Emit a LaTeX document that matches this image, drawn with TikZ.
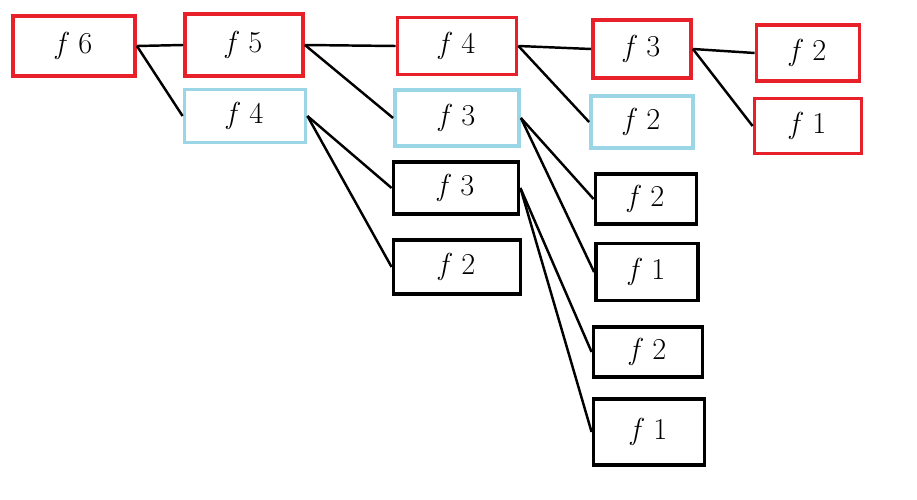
\documentclass[tikz,border=0pt]{standalone}
\usepackage{tikz}
\usetikzlibrary{positioning}
\definecolor{memo}{HTML}{E8202A}
\definecolor{sky}{HTML}{9AD6E6}
\tikzset{
  fbox/.style={draw=black,fill=white,line width=2.2pt,minimum height=#1,inner sep=0pt,font=\LARGE},
  fbox/.default=1cm,
  fboxr/.style={fbox=#1,draw=memo},
  fboxr/.default=1cm,
  fboxb/.style={fbox=#1,draw=sky},
  fboxb/.default=1cm,
  ln/.style={line width=1.4pt,black},
}
\newcommand{\fcall}[1]{\textit{f}\ #1}

\begin{document}
\begin{tikzpicture}[x=0.02cm,y=-0.02cm]
\useasboundingbox (0,0) rectangle (917,500);
% level 0 and 1
\node[fboxr=1.2cm,minimum width=2.44cm] (f6) at (74,46) {\fcall6};
\node[fboxr=1.24cm,minimum width=2.36cm] (f5) at (244,45) {\fcall5};
\node[fboxb=1.06cm,minimum width=2.42cm] (f4b) at (245,116) {\fcall4};
% level 2
\node[fboxr=1.14cm,minimum width=2.38cm] (f4r) at (457,46) {\fcall4};
\node[fboxb=1.12cm,minimum width=2.48cm] (f3b) at (457,118) {\fcall3};
\node[fbox=1.04cm,minimum width=2.5cm] (f3k) at (456,188) {\fcall3};
\node[fbox=1.08cm,minimum width=2.54cm] (f2k) at (457,267) {\fcall2};
% level 3
\node[fboxr=1.16cm,minimum width=1.96cm] (f3r) at (642,49) {\fcall3};
\node[fboxb=1.04cm,minimum width=2.04cm] (f2b) at (642,122) {\fcall2};
\node[fbox=1cm,minimum width=2.02cm] (f2c) at (646,199) {\fcall2};
\node[fbox=1.14cm,minimum width=2.04cm] (f1c) at (647,272) {\fcall1};
\node[fbox=1cm,minimum width=2.18cm] (f2d) at (648,352) {\fcall2};
\node[fbox=1.32cm,minimum width=2.22cm] (f1d) at (649,432) {\fcall1};
% level 4
\node[fboxr=1.12cm,minimum width=2.06cm] (f2r) at (808,53) {\fcall2};
\node[fboxr=1.1cm,minimum width=2.14cm] (f1r) at (808,126) {\fcall1};
% calls
\draw[ln](f6.east)--(f5.west);\draw[ln](f6.east)--(f4b.west);
\draw[ln](f5.east)--(f4r.west);\draw[ln](f5.east)--(f3b.west);
\draw[ln](f4b.east)--(f3k.west);\draw[ln](f4b.east)--(f2k.west);
\draw[ln](f4r.east)--(f3r.west);\draw[ln](f4r.east)--(f2b.west);
\draw[ln](f3b.east)--(f2c.west);\draw[ln](f3b.east)--(f1c.west);
\draw[ln](f3k.east)--(f2d.west);\draw[ln](f3k.east)--(f1d.west);
\draw[ln](f3r.east)--(f2r.west);\draw[ln](f3r.east)--(f1r.west);
\end{tikzpicture}
\end{document}
